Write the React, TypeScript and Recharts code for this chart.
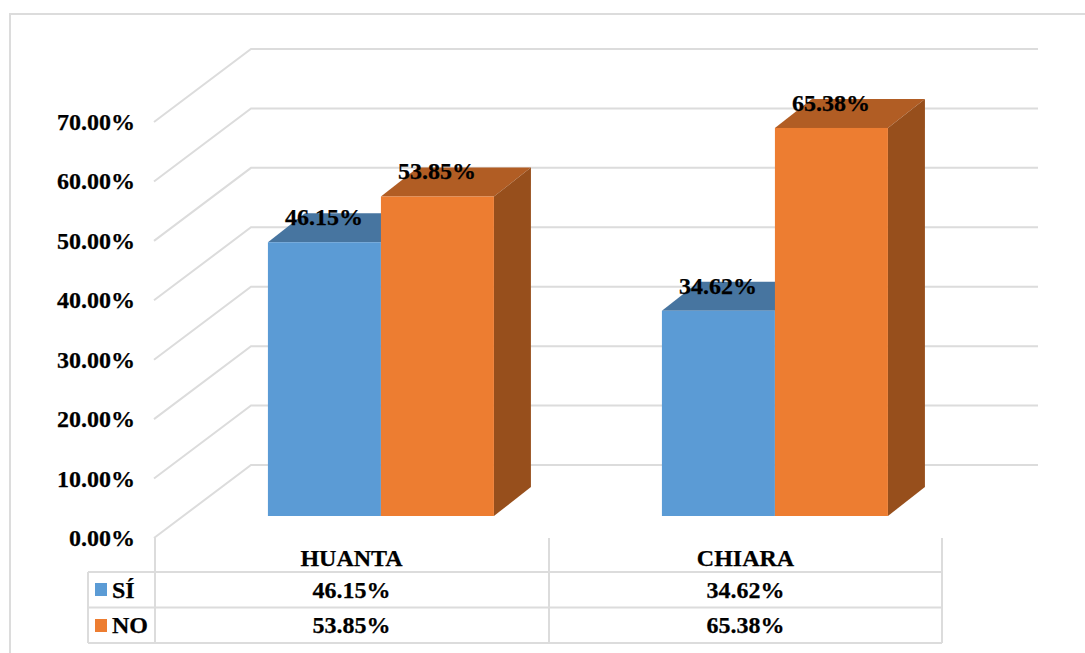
import React from "react";
import { BarChart, Bar, XAxis, YAxis, LabelList, CartesianGrid } from "recharts";

const categories = ["HUANTA", "CHIARA"];
const siValues = [46.15, 34.62];
const noValues = [53.85, 65.38];
const yTicks = [0, 10, 20, 30, 40, 50, 60, 70];

const chartData = categories.map((name, i) => ({ name, si: siValues[i], no: noValues[i] }));
const seriesRows = [
  { label: "SÍ", key: "si", color: "#5B9BD5", values: siValues },
  { label: "NO", key: "no", color: "#ED7D31", values: noValues },
];

const FONT = "'Liberation Serif', 'Times New Roman', serif";
const FS = 24;
const GRID = "#DCDCDC";
const W = 1085, H = 653;
const PL = 155, PR = 943, PB = 538, PT = 122;
const WALL_DX = 96, WALL_DY = 73;
const BAR_SHIFT_X = 29, BAR_SHIFT_Y = 22;
const DEPTH_X = 37, DEPTH_Y = 29;
const GRID_RIGHT = 1038;
const fmt = (v: number) => v.toFixed(2) + "%";

const textStyle = {
  fontFamily: FONT,
  fontSize: FS,
  fontWeight: "bold",
  fill: "#000",
  stroke: "#000",
  strokeWidth: 0.25,
} as const;

const WallLine = ({ y1 }: any) => (
  <polyline
    points={`${PL - 1},${y1} ${PL + WALL_DX},${y1 - WALL_DY} ${GRID_RIGHT},${y1 - WALL_DY}`}
    fill="none"
    stroke={GRID}
    strokeWidth={2}
  />
);

const YTick = ({ y, payload }: any) => (
  <text x={135} y={y + 8} textAnchor="end" {...textStyle}>
    {fmt(payload.value)}
  </text>
);

const Row1 = 572, Row2 = 607.5, Row3 = 643;
const XTick = ({ x, index, payload }: any) => {
  const cx = x - 0.5;
  const tr = PR - 1;
  const mid = (PL + PR) / 2;
  return (
    <g>
      {index === 0 && (
        <g stroke={GRID} strokeWidth={2} fill="none">
          <line x1={88} y1={Row1} x2={tr} y2={Row1} />
          <line x1={88} y1={Row2} x2={tr} y2={Row2} />
          <line x1={88} y1={Row3} x2={tr} y2={Row3} />
          <line x1={88} y1={Row1} x2={88} y2={Row3} />
          <line x1={PL} y1={PB} x2={PL} y2={Row3} />
          <line x1={mid} y1={PB} x2={mid} y2={Row3} />
          <line x1={tr} y1={PB} x2={tr} y2={Row3} />
        </g>
      )}
      {index === 0 &&
        seriesRows.map((s, r) => (
          <g key={s.key}>
            <rect x={95} y={583 + r * 36} width={12} height={13} fill={s.color} />
            <text x={112} y={598 + r * 35} {...textStyle}>
              {s.label}
            </text>
          </g>
        ))}
      <text x={cx} y={566} textAnchor="middle" {...textStyle}>
        {payload.value}
      </text>
      {seriesRows.map((s, r) => (
        <text key={s.key} x={cx} y={598 + r * 35} textAnchor="middle" {...textStyle}>
          {fmt(s.values[index])}
        </text>
      ))}
    </g>
  );
};

const Box3D = (front: string, top: string, side: string) => (props: any) => {
  const { x, y, width, height } = props;
  const fx = x + BAR_SHIFT_X;
  const fy = y - BAR_SHIFT_Y + 0.5;
  const r = fx + width;
  const b = fy + height - 0.5;
  return (
    <g>
      <polygon points={`${fx},${fy} ${fx + DEPTH_X},${fy - DEPTH_Y} ${r + DEPTH_X},${fy - DEPTH_Y} ${r},${fy}`} fill={top} />
      <polygon points={`${r},${fy} ${r + DEPTH_X},${fy - DEPTH_Y} ${r + DEPTH_X},${b - DEPTH_Y} ${r},${b}`} fill={side} />
      <rect x={fx} y={fy} width={width} height={height - 0.5} fill={front} />
    </g>
  );
};

const BarLabel = ({ x, y, width, value }: any) => (
  <text x={x + BAR_SHIFT_X + width / 2 - 0.5} y={y - BAR_SHIFT_Y - 16.5} textAnchor="middle" {...textStyle}>
    {fmt(value)}
  </text>
);

export default function App() {
  return (
    <div style={{ position: "absolute", left: 0, top: 0, width: W, height: H, overflow: "hidden", background: "#fff" }}>
      <div
        style={{
          position: "absolute",
          left: 9,
          top: 13,
          width: W,
          height: H,
          border: `2px solid ${GRID}`,
          boxSizing: "border-box",
        }}
      />
      <BarChart
        width={W}
        height={H}
        data={chartData}
        margin={{ left: PL - 80, right: W - PR, top: PT, bottom: H - PB - 100 }}
        barCategoryGap="21.3%"
        barGap={0}
        style={{ position: "absolute", left: 0, top: 0 }}
      >
        <CartesianGrid vertical={false} horizontalValues={yTicks} horizontal={(p: any) => <WallLine key={p.key ?? p.index} {...p} />} />
        <XAxis dataKey="name" height={100} axisLine={false} tickLine={false} interval={0} tick={<XTick />} />
        <YAxis
          width={80}
          domain={[0, 70]}
          ticks={yTicks}
          axisLine={false}
          tickLine={false}
          interval={0}
          tick={<YTick />}
        />
        <Bar dataKey="si" isAnimationActive={false} shape={Box3D("#5B9BD5", "#4775A0", "#3F6E99")}>
          <LabelList dataKey="si" content={<BarLabel />} />
        </Bar>
        <Bar dataKey="no" isAnimationActive={false} shape={Box3D("#ED7D31", "#B15D24", "#974F1C")}>
          <LabelList dataKey="no" content={<BarLabel />} />
        </Bar>
      </BarChart>
    </div>
  );
}
